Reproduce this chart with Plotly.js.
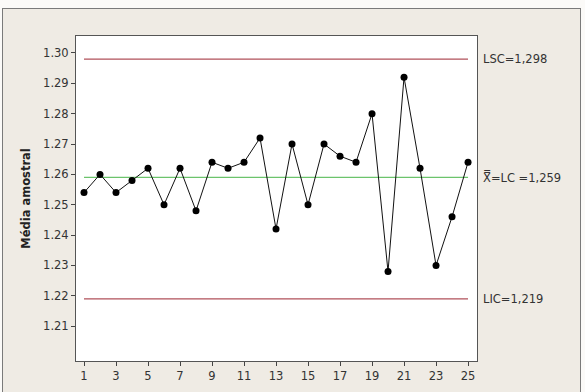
<!DOCTYPE html>
<html><head><meta charset="utf-8">
<script src="https://cdn.plot.ly/plotly-3.0.1.min.js"></script>
<style>
html,body{margin:0;padding:0;background:#fbfaf8;width:585px;height:392px;overflow:hidden;}
#frame{position:absolute;left:2px;top:8px;width:577px;height:390px;border:1px solid #7a7a7a;background:#efebe4;}
#chart{position:absolute;left:0;top:0;width:577px;height:390px;}
</style></head><body>
<div id="frame"><div id="chart"></div></div>
<script>
const samples = [1,2,3,4,5,6,7,8,9,10,11,12,13,14,15,16,17,18,19,20,21,22,23,24,25];
const means = [1.254,1.260,1.254,1.258,1.262,1.250,1.262,1.248,1.264,1.262,1.264,1.272,1.242,1.270,1.250,1.270,1.266,1.264,1.280,1.228,1.292,1.262,1.230,1.246,1.264];
const LSC = 1.298, LC = 1.259, LIC = 1.219;
const limitLabels = ["LSC=1,298", "X\u033F=LC =1,259", "LIC=1,219"];
const xTicks = [1,3,5,7,9,11,13,15,17,19,21,23,25];
const yTicks = [1.21,1.22,1.23,1.24,1.25,1.26,1.27,1.28,1.29,1.30];

const first = samples[0], last = samples[samples.length-1];
const traces = [
  {x:[first,last], y:[LSC,LSC], mode:'lines', line:{color:'#b0505a', width:1.3}, hoverinfo:'skip'},
  {x:[first,last], y:[LC,LC], mode:'lines', line:{color:'#6cc46c', width:1.3}, hoverinfo:'skip'},
  {x:[first,last], y:[LIC,LIC], mode:'lines', line:{color:'#b0505a', width:1.3}, hoverinfo:'skip'},
  {x:samples, y:means, mode:'lines+markers', line:{color:'#111', width:1}, marker:{color:'#000', size:7}}
];
const ann = [LSC, LC, LIC].map((v,i)=>({
  x:1, xref:'paper', xanchor:'left', xshift:4, y:v, yref:'y', yanchor:'middle',
  text:limitLabels[i], showarrow:false, font:{family:'DejaVu Sans', size:11.5, color:'#333'}
}));
const layout = {
  width:577, height:390,
  margin:{l:73, r:103, t:27, b:38},
  paper_bgcolor:'#efebe4', plot_bgcolor:'#ffffff',
  showlegend:false,
  font:{family:'DejaVu Sans', size:11, color:'#333'},
  xaxis:{range:[0.5,25.56], tickvals:xTicks, ticktext:xTicks.map(String), ticks:'outside', ticklen:4, tickcolor:'#444',
         showgrid:false, zeroline:false, showline:true, linecolor:'#555', linewidth:1, mirror:true,
         tickfont:{family:'DejaVu Sans', size:11.5, color:'#333'}},
  yaxis:{range:[1.1985,1.3056], tickvals:yTicks, ticktext:yTicks.map(v=>v.toFixed(2)), ticks:'outside', ticklen:4, tickcolor:'#444',
         showgrid:false, zeroline:false, showline:true, linecolor:'#555', linewidth:1, mirror:true,
         tickfont:{family:'DejaVu Sans', size:11.5, color:'#333'},
         title:{text:'<b>Média amostral</b>', standoff:10, font:{family:'DejaVu Sans', size:11.5, color:'#222'}}},
  annotations:ann
};
Plotly.newPlot('chart', traces, layout, {displayModeBar:false, staticPlot:true});
</script></body></html>
